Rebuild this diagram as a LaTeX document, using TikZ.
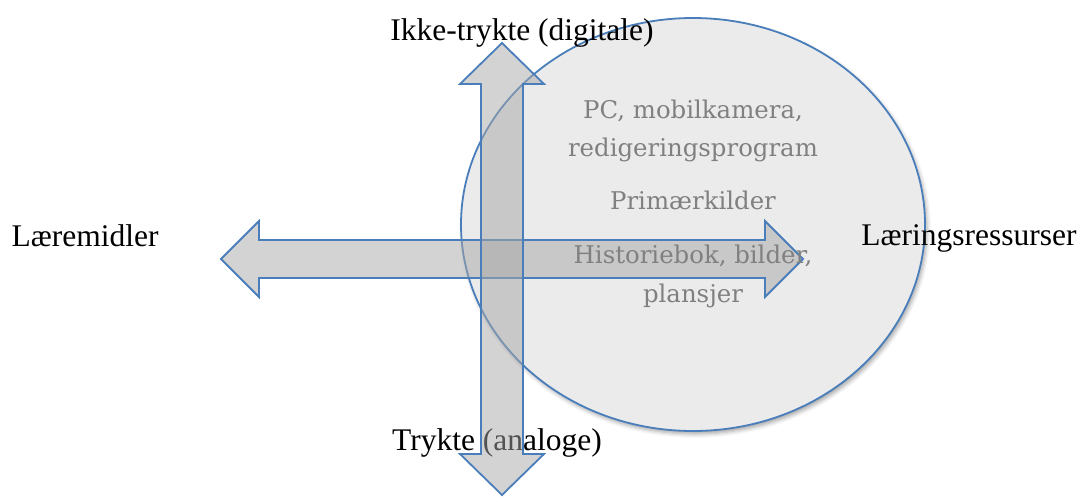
\documentclass[tikz,border=0pt]{standalone}
\usepackage{fontspec}
\setmainfont{Liberation Serif}
\newfontfamily\greyfont{DejaVu Serif}
\usetikzlibrary{shapes.geometric,shadows.blur}
\definecolor{edgeblue}{HTML}{4A7EBB}
\definecolor{circfill}{HTML}{EBEBEB}
\definecolor{greytext}{HTML}{808080}
\definecolor{arrowfill}{HTML}{A7A7A7}
\tikzset{
  axislabel/.style={inner sep=0pt, anchor=base, font=\fontsize{31.5}{38}\selectfont, text=black},
  itemlabel/.style={inner sep=0pt, anchor=base, font=\greyfont\fontsize{24.4}{38}\selectfont, text=greytext},
  arrowbox/.style={draw=edgeblue, line width=1.8pt, line join=miter, fill=arrowfill, fill opacity=0.5},
  resource/.style={ellipse, draw=edgeblue, line width=1.8pt, fill=circfill, inner sep=0pt,
    blur shadow={shadow xshift=2pt, shadow yshift=-3pt, shadow blur radius=4pt, shadow opacity=35}}
}
\begin{document}
\begin{tikzpicture}[x=1pt,y=-1pt]
\useasboundingbox (0,0) rectangle (1082,496);
\node[resource, minimum width=464pt, minimum height=413pt] (res) at (693,224.5) {};
% labels of the axes
\node[axislabel] (left) at (85,246) {Læremidler};
\node[axislabel] (right) at (969,245) {Læringsressurser};
\node[axislabel] (top) at (522,40) {Ikke-trykte (digitale)};
\node[axislabel] (bottom) at (497,450) {Trykte (analoge)};
% horizontal double arrow
\draw[arrowbox] (221,259) -- (259,221) -- (259,240) -- (765,240) -- (765,221) -- (803,259)
  -- (765,297) -- (765,278) -- (259,278) -- (259,297) -- cycle;
% vertical double arrow
\draw[arrowbox] (502,43) -- (544,84) -- (523,84) -- (523,454) -- (544,454) -- (502,495)
  -- (460,454) -- (481,454) -- (481,84) -- (460,84) -- cycle;
% items inside the ellipse
\node[itemlabel] (pc) at (693,118) {PC, mobilkamera,};
\node[itemlabel] (red) at (693,156) {redigeringsprogram};
\node[itemlabel] (prim) at (693,209) {Primærkilder};
\node[itemlabel] (hist) at (693,263) {Historiebok, bilder,};
\node[itemlabel] (plan) at (693,302) {plansjer};
\end{tikzpicture}
\end{document}
